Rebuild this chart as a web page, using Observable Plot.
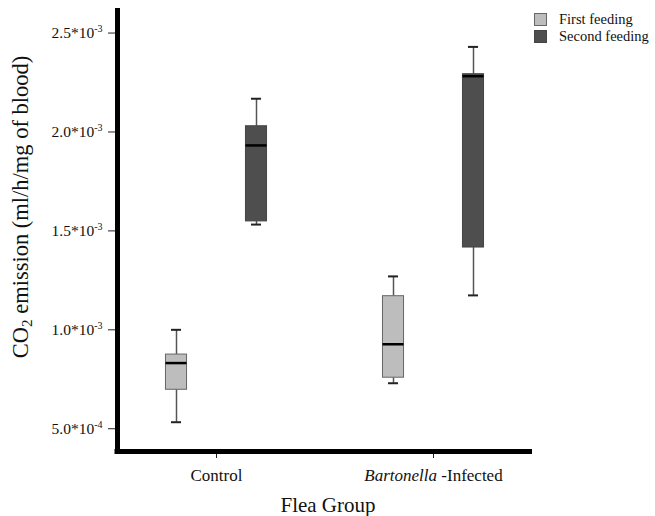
<!DOCTYPE html>
<html><head><meta charset="utf-8">
<script src="https://cdn.jsdelivr.net/npm/d3@7"></script>
<script src="https://cdn.jsdelivr.net/npm/@observablehq/plot@0.6"></script>
<style>
body{margin:0;background:#fff;}
#wrap{position:relative;width:655px;height:516px;font-family:"Liberation Serif","Times New Roman",serif;}
#legend{position:absolute;left:534px;top:11px;font-size:14.5px;color:#111;line-height:17px;}
#legend .item{display:flex;align-items:center;height:17px;}
#legend .sw{width:13px;height:13px;margin-right:12px;box-sizing:border-box;border:1px solid #777;}
</style>
</head><body>
<div id="wrap"><div id="legend"></div></div>
<script>
// ---- data ----
const groups = ["Control", "Bartonella -Infected"];
const seriesNames = ["First feeding", "Second feeding"];
const boxGroup = ["Control", "Control", "Bartonella -Infected", "Bartonella -Infected"];
const boxSeries = ["First feeding", "Second feeding", "First feeding", "Second feeding"];
const whiskerLow  = [0.000533, 0.001532, 0.000730, 0.001174];
const quart1      = [0.000697, 0.001548, 0.000758, 0.001416];
const median      = [0.000832, 0.001932, 0.000927, 0.002282];
const quart3      = [0.000875, 0.002029, 0.001170, 0.002292];
const whiskerHigh = [0.001000, 0.002168, 0.001270, 0.002430];
const yTicks = [0.0005, 0.001, 0.0015, 0.002, 0.0025];
const yDomain = [0.000385, 0.002614];
const colors = ["#bdbdbd", "#4e4e4e"];
const strokes = ["#666666", "#444444"];

const rows = boxGroup.map((g, i) => ({
  group: g, series: boxSeries[i], lo: whiskerLow[i], q1: quart1[i],
  med: median[i], q3: quart3[i], hi: whiskerHigh[i]
}));

// ---- layout ----
const W = 655, H = 516, mL = 117, mR = 123, mT = 10, mB = 65;
const pIn = 0.3, pOut = 0.106;
const step = (W - mL - mR) / (groups.length - pIn + 2 * pOut);
const bw = step * (1 - pIn);
const boxW = 21, capW = 10;
const boxInset = (bw - boxW) / 2, capInset = (bw - capW) / 2;
const offsets = [-40, 40];

function fmt(d) {
  const e = Math.floor(Math.log10(d) + 1e-9);
  const m = d / Math.pow(10, e);
  return m.toFixed(1) + "*10^" + e;
}

const marks = [];
seriesNames.forEach((s, k) => {
  const data = rows.filter(r => r.series === s);
  const dx = offsets[k];
  marks.push(
    Plot.ruleX(data, {x: "group", y1: "q3", y2: "hi", dx, stroke: "#555", strokeWidth: 1.5}),
    Plot.ruleX(data, {x: "group", y1: "lo", y2: "q1", dx, stroke: "#555", strokeWidth: 1.5}),
    Plot.tickY(data, {x: "group", y: "hi", dx, insetLeft: capInset, insetRight: capInset, stroke: "#222", strokeWidth: 2}),
    Plot.tickY(data, {x: "group", y: "lo", dx, insetLeft: capInset, insetRight: capInset, stroke: "#222", strokeWidth: 2}),
    Plot.barY(data, {x: "group", y1: "q1", y2: "q3", dx, insetLeft: boxInset, insetRight: boxInset, fill: colors[k], stroke: strokes[k], strokeWidth: 1}),
    Plot.tickY(data, {x: "group", y: "med", dx, insetLeft: boxInset, insetRight: boxInset, stroke: "#000", strokeWidth: 2.5})
  );
});

const yLabel = "CO2 emission (ml/h/mg of blood)";
const xLabel = "Flea Group";

const chart = Plot.plot({
  width: W, height: H,
  marginLeft: mL, marginRight: mR, marginTop: mT, marginBottom: mB,
  style: {fontFamily: "Liberation Serif", color: "#111", background: "transparent"},
  x: {domain: groups, paddingInner: pIn, paddingOuter: pOut},
  y: {domain: yDomain},
  marks: [
    ...marks,
    Plot.axisY({ticks: yTicks, tickFormat: fmt, tickSize: 9, tickPadding: 6, fontSize: 15.5, label: null, stroke: "#222"}),
    Plot.axisX({tickSize: 7, tickPadding: 10, fontSize: 17, label: null, stroke: "#222"}),
    Plot.frame({anchor: "left", stroke: "#000", strokeWidth: 5}),
    Plot.ruleY([yDomain[0]], {stroke: "#000", strokeWidth: 5, insetLeft: -2.5}),
    Plot.text([xLabel], {frameAnchor: "bottom", textAnchor: "middle", lineAnchor: "middle", dx: 3, dy: 54, fontSize: 21, fill: "#111"}),
    Plot.text([yLabel], {frameAnchor: "left", textAnchor: "middle", lineAnchor: "middle", rotate: -90, dx: -97, dy: -24, fontSize: 22.5, fill: "#111"})
  ]
});

const wrap = document.getElementById("wrap");
wrap.insertBefore(chart, wrap.firstChild);

const svg = d3.select(chart);
svg.selectAll("text").each(function() {
  const t = d3.select(this);
  const s = this.textContent;
  if (s.includes("*10^")) {
    const [a, b] = s.split("^");
    t.text(null);
    t.append("tspan").text(a);
    t.append("tspan").attr("font-size", 10).attr("dy", -6).text(b);
  } else if (s === "Bartonella -Infected") {
    t.text(null);
    t.append("tspan").attr("font-style", "italic").text("Bartonella");
    t.append("tspan").text(" -Infected");
  } else if (s === yLabel) {
    t.text(null);
    t.append("tspan").text("CO");
    t.append("tspan").attr("font-size", 15).attr("dy", 4).text("2");
    t.append("tspan").attr("dy", -4).text(" emission (ml/h/mg of blood)");
  }
});

const legend = d3.select("#legend");
seriesNames.forEach((s, k) => {
  const it = legend.append("div").attr("class", "item");
  it.append("div").attr("class", "sw").style("background", colors[k]).style("border-color", strokes[k]);
  it.append("span").text(s);
});
</script>
</body></html>
